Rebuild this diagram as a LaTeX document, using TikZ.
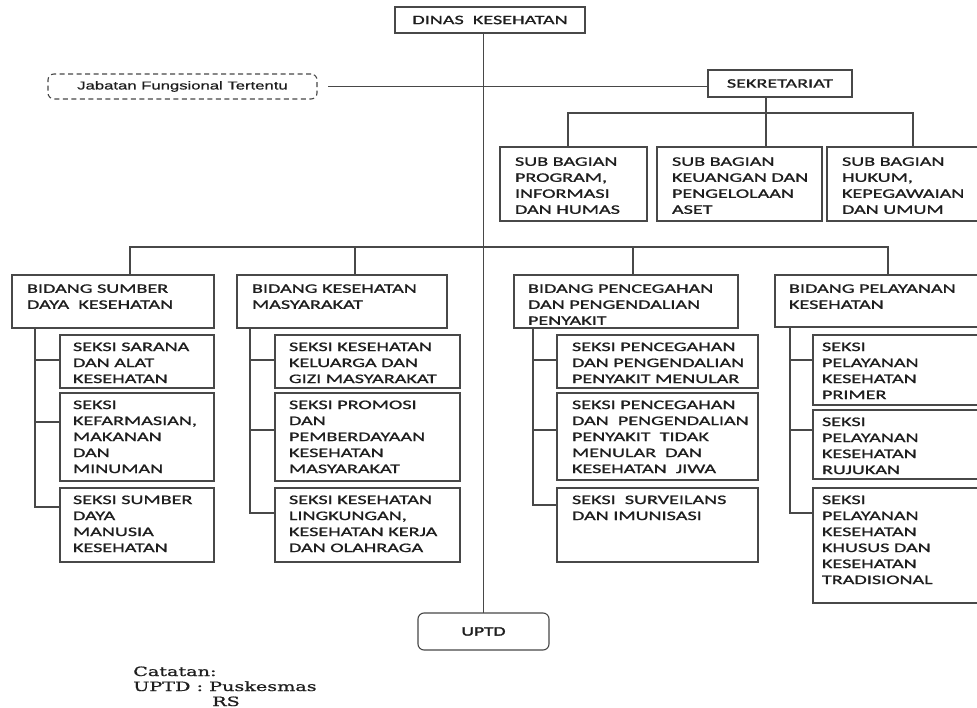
\documentclass[tikz,border=0pt]{standalone}
\usepackage{fontspec}
\newfontfamily\boxfont[FakeStretch=1.55,FakeBold=1.1]{Carlito}
\newfontfamily\uptdfont[FakeStretch=1.5,FakeBold=2.2]{Carlito}
\newfontfamily\jftfont[FakeStretch=1.45,FakeBold=0.6]{Liberation Sans}
\newfontfamily\notefont[FakeStretch=1.5,FakeBold=0.9]{DejaVu Serif}
\definecolor{ln}{RGB}{72,72,72}
\definecolor{tx}{RGB}{30,30,30}
\newlength\tgap
\newcommand\bx[7]{%
  \node[orgbox, minimum width={(#4-#2)*1pt}, minimum height={(#5-#3)*1pt}] (#1) at (#2,#3)
  {\hspace*{#6pt}\parbox[c][\dimexpr#5pt-#3pt\relax][t]{\dimexpr#4pt-#2pt-#6pt\relax}{\vspace*{\tgap}\raggedright #7}};}
\tikzset{
  orgbox/.style={draw=ln, line width=1.1pt, inner sep=0pt, outer sep=0pt, anchor=north west,
     font=\boxfont\fontsize{13}{16}\selectfont, text=tx},
  cbox/.style={draw=ln, line width=1.1pt, inner sep=0pt, outer sep=0pt, anchor=north west,
     font=\boxfont\fontsize{13}{16}\selectfont, text=tx},
  conn/.style={draw=ln, line width=1.1pt},
  notest/.style={anchor=base west, inner sep=0pt, text=tx, font=\notefont\fontsize{12.8}{15}\selectfont}
}
\begin{document}
\begin{tikzpicture}[x=1pt,y=-1pt]
\useasboundingbox[fill=white] (0,0) rectangle (977,708);
% top
\node[cbox, minimum width=190pt, minimum height=26pt] (dinas) at (395,7) {DINAS\ \ KESEHATAN};
\node[cbox, minimum width=144pt, minimum height=27pt] (sek) at (708,70) {SEKRETARIAT};
\node[cbox, dashed, dash pattern=on 5pt off 3.5pt, rounded corners=6pt, minimum width=269pt, minimum height=25pt,
  font=\jftfont\fontsize{11.5}{14}\selectfont] (jft) at (48,74) {Jabatan Fungsional Tertentu};
\node[cbox, rounded corners=6pt, minimum width=131pt, minimum height=37pt,
  font=\uptdfont\fontsize{13}{16}\selectfont] (uptd) at (418,613) {UPTD};
% sub bagian
\setlength\tgap{10.4pt}
\bx{sub1}{500}{147}{647}{221}{15}{SUB BAGIAN\\PROGRAM,\\INFORMASI\\DAN HUMAS}
\bx{sub2}{657}{147}{822}{221}{15}{SUB BAGIAN\\KEUANGAN DAN\\PENGELOLAAN\\ASET}
\bx{sub3}{827}{147}{1000}{221}{15}{SUB BAGIAN\\HUKUM,\\KEPEGAWAIAN\\DAN UMUM}
% bidang
\setlength\tgap{9.4pt}
\bx{bid1}{12}{275}{214}{328}{15}{BIDANG SUMBER\\DAYA\ \ KESEHATAN}
\bx{bid2}{237}{275}{447}{328}{15}{BIDANG KESEHATAN\\MASYARAKAT}
\bx{bid3}{514}{275}{738}{328}{14}{BIDANG PENCEGAHAN\\DAN PENGENDALIAN\\PENYAKIT}
\bx{bid4}{775}{275}{1000}{327}{14}{BIDANG PELAYANAN\\KESEHATAN}
% seksi
\setlength\tgap{7.6pt}
\bx{s1a}{60}{335}{214}{388}{13}{SEKSI SARANA\\DAN ALAT\\KESEHATAN}
\bx{s1b}{60}{393}{214}{481}{13}{SEKSI\\KEFARMASIAN,\\MAKANAN\\DAN\\MINUMAN}
\bx{s1c}{60}{488}{214}{562}{13}{SEKSI SUMBER\\DAYA\\MANUSIA\\KESEHATAN}
\bx{s2a}{275}{335}{460}{388}{14}{SEKSI KESEHATAN\\KELUARGA DAN\\GIZI MASYARAKAT}
\bx{s2b}{275}{393}{460}{481}{14}{SEKSI PROMOSI\\DAN\\PEMBERDAYAAN\\KESEHATAN\\MASYARAKAT}
\bx{s2c}{275}{488}{460}{562}{14}{SEKSI KESEHATAN\\LINGKUNGAN,\\KESEHATAN KERJA\\DAN OLAHRAGA}
\bx{s3a}{557}{335}{758}{388}{15}{SEKSI PENCEGAHAN\\DAN PENGENDALIAN\\PENYAKIT MENULAR}
\bx{s3b}{557}{393}{758}{480}{15}{SEKSI PENCEGAHAN\\DAN\ \ PENGENDALIAN\\PENYAKIT\ \ TIDAK\\MENULAR\ \ DAN\\KESEHATAN\ \ JIWA}
\bx{s3c}{557}{488}{758}{562}{15}{SEKSI\ \ SURVEILANS\\DAN IMUNISASI}
\bx{s4a}{813}{335}{1000}{405}{9}{SEKSI\\PELAYANAN\\KESEHATAN\\PRIMER}
\bx{s4b}{813}{410}{1000}{479}{9}{SEKSI\\PELAYANAN\\KESEHATAN\\RUJUKAN}
\bx{s4c}{813}{488}{1000}{603}{9}{SEKSI\\PELAYANAN\\KESEHATAN\\KHUSUS DAN\\KESEHATAN\\TRADISIONAL}
% note
\node[notest] (n1) at (133,676) {Catatan:};
\node[notest] (n2) at (133,691) {UPTD : Puskesmas};
\node[notest] (n3) at (212,706) {RS};
% connectors
\coordinate (sekbus) at (766,113);
\coordinate (bb1) at (130,247);
\coordinate (bb2) at (355,247);
\coordinate (bb3) at (633,247);
\coordinate (bb4) at (888,247);
\draw[conn] (dinas.south -| uptd.north) -- (uptd.north);
\draw[conn] ([xshift=11pt]jft.east) -- (sek.west |- jft.east);
\draw[conn] (sek.south -| sekbus) -- (sekbus) -- (sub2.north -| sekbus);
\draw[conn] (sub1.north -| 568,0) -- (568,113) -- (913,113) -- (sub3.north -| 913,0);
\draw[conn] (bid1.north -| bb1) -- (bb1) -- (bb4) -- (bid4.north -| bb4);
\draw[conn] (bb2) -- (bid2.north -| bb2);
\draw[conn] (bb3) -- (bid3.north -| bb3);
% seksi branches
\draw[conn] (bid1.south -| 35,0) |- (s1c.west |- 0,507);
\draw[conn] (35,360) -- (s1a.west |- 0,360);
\draw[conn] (35,422) -- (s1b.west |- 0,422);
\draw[conn] (bid2.south -| 250,0) |- (s2c.west |- 0,513);
\draw[conn] (250,360) -- (s2a.west |- 0,360);
\draw[conn] (250,430) -- (s2b.west |- 0,430);
\draw[conn] (bid3.south -| 533,0) |- (s3c.west |- 0,505);
\draw[conn] (533,360) -- (s3a.west |- 0,360);
\draw[conn] (533,430) -- (s3b.west |- 0,430);
\draw[conn] (bid4.south -| 790,0) |- (s4c.west |- 0,513);
\draw[conn] (790,360) -- (s4a.west |- 0,360);
\draw[conn] (790,430) -- (s4b.west |- 0,430);
\end{tikzpicture}
\end{document}
